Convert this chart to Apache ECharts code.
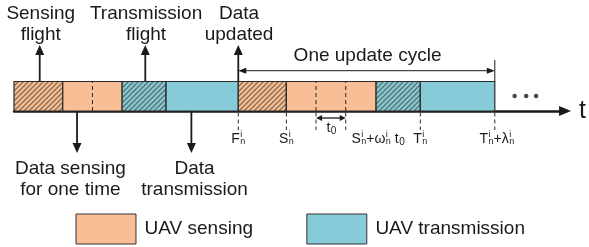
<!DOCTYPE html>
<html>
<head>
<meta charset="utf-8">
<script src="https://cdn.jsdelivr.net/npm/echarts@6/dist/echarts.min.js"></script>
<style>
  html, body { margin: 0; padding: 0; background: #fff; }
  #chart { width: 589px; height: 247px; }
</style>
</head>
<body>
<div id="chart"></div>
<script>
// time runs along x (0 = start of first sensing flight), y: 0 = time axis
const segStart = [0, 49.3, 109.3, 153.7, 226.7, 275.3, 366, 410.7];
const segEnd = [49.3, 109.3, 153.7, 226.7, 275.3, 366, 410.7, 486];
const segKind = ['sf', 's', 'tf', 't', 'sf', 's', 'tf', 't'];
const barTop = 29.5;
const slotLines = [79.3, 305.3, 335.3];
const tickTimes = [226.7, 275.3, 305.3, 335.3, 410.7, 486];

const tickLabelX = [226.7, 275.3, 368, 410.7, 488];
const tickLabels = [
  [{t: 'F'}, {sup: 'i', sub: 'n'}],
  [{t: 'S'}, {sup: 'i', sub: 'n'}],
  [{t: 'S'}, {sup: 'i', sub: 'n'}, {t: '+ω'}, {sup: 'i', sub: 'n'}, {t: ' t'}, {sub: '0'}],
  [{t: 'T'}, {sup: 'i', sub: 'n'}],
  [{t: 'T'}, {sup: 'i', sub: 'n'}, {t: '+λ'}, {sup: 'i', sub: 'n'}]
];

const upArrowX = [26, 132.7, 226.7];
const upTextX = [27, 133.5, 227.5];
const upTexts = ['Sensing\nflight', 'Transmission\nflight', 'Data\nupdated'];
const downArrowX = [63.7, 179.3];
const downTextX = [57, 182.5];
const downTexts = ['Data sensing\nfor one time', 'Data\ntransmission'];

const cycleFrom = 226.7, cycleTo = 486, cycleText = 'One update cycle';
const t0From = 305.3, t0To = 335.3;
const dotsX = [506, 517.7, 527.7];

const legendBoxX = [62.7, 296];
const legendKind = ['s', 't'];
const legendTexts = ['UAV sensing', 'UAV transmission'];

const orange = '#fabe97';
const cyan = '#86cbd7';
const ink = '#1a1a1a';
const font = '19px "Liberation Sans"';

function hatch() {
  const c = document.createElement('canvas');
  c.width = c.height = 5;
  const g = c.getContext('2d');
  g.strokeStyle = 'rgba(60,55,35,0.6)';
  g.lineWidth = 1.3;
  g.beginPath();
  g.moveTo(0, 5); g.lineTo(5, 0);
  g.moveTo(-1, 1); g.lineTo(1, -1);
  g.moveTo(4, 6); g.lineTo(6, 4);
  g.stroke();
  return c;
}
const hatchPattern = {image: hatch(), repeat: 'repeat'};

const measure = document.createElement('canvas').getContext('2d');
function textW(str, f) { measure.font = f; return measure.measureText(str).width; }

// label with stacked super/subscripts, centred on (cx, cy)
function mathLabel(parts, cx, cy) {
  const big = '14px "Liberation Sans"', small = '9px "Liberation Sans"', sub0 = '10px "Liberation Sans"';
  const widths = parts.map(p => p.t ? textW(p.t, big) :
    p.sup ? Math.max(textW(p.sup, small), textW(p.sub, small)) + 0.5 : textW(p.sub, sub0) + 0.5);
  let x = cx - widths.reduce((a, b) => a + b, 0) / 2;
  const out = [];
  parts.forEach((p, i) => {
    if (p.t) {
      out.push({type: 'text', style: {text: p.t, x: x, y: cy, font: big, fill: ink, align: 'left', verticalAlign: 'middle'}});
    } else if (p.sup) {
      out.push({type: 'text', style: {text: p.sup, x: x + 0.5, y: cy - 4, font: small, fill: ink, align: 'left', verticalAlign: 'middle'}});
      out.push({type: 'text', style: {text: p.sub, x: x + 0.5, y: cy + 3, font: small, fill: ink, align: 'left', verticalAlign: 'middle'}});
    } else {
      out.push({type: 'text', style: {text: p.sub, x: x + 0.5, y: cy + 3, font: sub0, fill: ink, align: 'left', verticalAlign: 'middle'}});
    }
    x += widths[i];
  });
  return out;
}

function head(tip, dx, dy, len, wid) {
  // dx,dy: unit direction of the arrow
  const bx = tip[0] - dx * len, by = tip[1] - dy * len;
  return {type: 'polygon', shape: {points: [tip, [bx - dy * wid / 2, by + dx * wid / 2], [bx + dy * wid / 2, by - dx * wid / 2]]},
    style: {fill: ink}};
}

const chart = echarts.init(document.getElementById('chart'));

chart.setOption({
  animation: false,
  grid: {left: 14, right: 18, top: 0, bottom: 0},
  xAxis: {
    type: 'value', min: 0, max: 557,
    name: 't', nameLocation: 'end', nameGap: 14,
    nameTextStyle: {fontSize: 25, color: ink, fontFamily: 'Liberation Sans', padding: [14, 0, 0, 0]},
    axisLine: {onZero: true, symbol: ['none', 'triangle'], symbolSize: [10, 12],
      lineStyle: {color: ink, width: 2.5}},
    axisTick: {show: false}, axisLabel: {show: false}, splitLine: {show: false}
  },
  yAxis: {type: 'value', min: -136, max: 111, show: false},
  series: [
    {
      // timeline blocks
      type: 'custom', clip: false, z: 2,
      data: segStart.map((s, i) => [s, segEnd[i], i]),
      renderItem: (params, api) => {
        const k = segKind[api.value(2)];
        const p0 = api.coord([api.value(0), 0]);
        const p1 = api.coord([api.value(1), barTop]);
        const shape = {x: p0[0], y: p1[1], width: p1[0] - p0[0], height: p0[1] - p1[1]};
        const kids = [{type: 'rect', shape: shape, style: {fill: k[0] === 's' ? orange : cyan}}];
        if (k.length > 1) kids.push({type: 'rect', shape: shape, style: {fill: hatchPattern}});
        kids.push({type: 'rect', shape: shape, style: {fill: 'none', stroke: '#2a2a2a', lineWidth: 1.2}});
        return {type: 'group', children: kids};
      }
    },
    {
      // dashed slot dividers inside sensing blocks
      type: 'custom', clip: false, z: 3,
      data: slotLines.map(v => [v]),
      renderItem: (params, api) => {
        const a = api.coord([api.value(0), 0]), b = api.coord([api.value(0), barTop]);
        return {type: 'line', shape: {x1: a[0], y1: a[1], x2: b[0], y2: b[1]},
          style: {stroke: '#2a2a2a', lineWidth: 1, lineDash: [4, 3]}};
      }
    },
    {
      // dashed time marks below the axis
      type: 'custom', clip: false, z: 3,
      data: tickTimes.map(v => [v]),
      renderItem: (params, api) => {
        const a = api.coord([api.value(0), -1.5]), b = api.coord([api.value(0), -19]);
        return {type: 'line', shape: {x1: a[0], y1: a[1], x2: b[0], y2: b[1]},
          style: {stroke: '#2a2a2a', lineWidth: 1, lineDash: [4, 3]}};
      }
    },
    {
      // tick labels
      type: 'custom', clip: false, z: 4,
      data: tickLabelX.map((v, i) => [v, i]),
      renderItem: (params, api) => {
        const p = api.coord([api.value(0), -28]);
        return {type: 'group', children: mathLabel(tickLabels[api.value(1)], p[0], p[1])};
      }
    },
    {
      // up arrows + captions
      type: 'custom', clip: false, z: 4,
      data: upArrowX.map((v, i) => [v, upTextX[i], i]),
      renderItem: (params, api) => {
        const tip = api.coord([api.value(0), 66]), base = api.coord([api.value(0), barTop]);
        const t = api.coord([api.value(1), 87]);
        return {type: 'group', children: [
          {type: 'line', shape: {x1: base[0], y1: base[1], x2: tip[0], y2: tip[1] + 8}, style: {stroke: ink, lineWidth: 1.8}},
          head(tip, 0, -1, 10, 9),
          {type: 'text', style: {text: upTexts[api.value(2)], x: t[0], y: t[1], font: font, lineHeight: 21,
            fill: ink, align: 'center', verticalAlign: 'middle'}}
        ]};
      }
    },
    {
      // down arrows + captions
      type: 'custom', clip: false, z: 4,
      data: downArrowX.map((v, i) => [v, downTextX[i], i]),
      renderItem: (params, api) => {
        const tip = api.coord([api.value(0), -42]), base = api.coord([api.value(0), 0]);
        const t = api.coord([api.value(1), -68.5]);
        return {type: 'group', children: [
          {type: 'line', shape: {x1: base[0], y1: base[1], x2: tip[0], y2: tip[1] - 8}, style: {stroke: ink, lineWidth: 1.8}},
          head(tip, 0, 1, 10, 9),
          {type: 'text', style: {text: downTexts[api.value(2)], x: t[0], y: t[1], font: font, lineHeight: 21,
            fill: ink, align: 'center', verticalAlign: 'middle'}}
        ]};
      }
    },
    {
      // update cycle span and t0 span
      type: 'custom', clip: false, z: 4,
      data: [[cycleFrom, cycleTo, 40.3, 0], [t0From, t0To, -7, 1]],
      renderItem: (params, api) => {
        const a = api.coord([api.value(0), api.value(2)]), b = api.coord([api.value(1), api.value(2)]);
        const big = api.value(3) === 0;
        const len = big ? 8 : 6, wid = 6;
        const kids = [
          {type: 'line', shape: {x1: a[0] + len - 1, y1: a[1], x2: b[0] - len + 1, y2: b[1]}, style: {stroke: ink, lineWidth: big ? 1 : 1.3}},
          head(a, -1, 0, len, wid), head(b, 1, 0, len, wid)
        ];
        if (big) {
          const t1 = api.coord([api.value(1), barTop]), t2 = api.coord([api.value(1), 51]);
          kids.push({type: 'line', shape: {x1: t1[0], y1: t1[1], x2: t2[0], y2: t2[1]}, style: {stroke: ink, lineWidth: 1}});
          const c = api.coord([(api.value(0) + api.value(1)) / 2 + 1, 55.5]);
          kids.push({type: 'text', style: {text: cycleText, x: c[0], y: c[1], font: font, fill: ink, align: 'center', verticalAlign: 'middle'}});
        } else {
          const c = api.coord([(api.value(0) + api.value(1)) / 2 + 0.5, -17]);
          kids.push.apply(kids, mathLabel([{t: 't'}, {sub: '0'}], c[0], c[1]));
        }
        return {type: 'group', children: kids};
      }
    },
    {
      // continuation dots
      type: 'scatter', symbol: 'circle', symbolSize: 4.5, z: 4,
      itemStyle: {color: ink},
      data: dotsX.map(v => [v, 15])
    },
    {
      // legend boxes
      type: 'custom', clip: false, z: 4,
      data: legendBoxX.map((v, i) => [v, i]),
      renderItem: (params, api) => {
        const i = api.value(1);
        const p0 = api.coord([api.value(0), -103]), p1 = api.coord([api.value(0) + 60.6, -133]);
        const t = api.coord([api.value(0) + 69.3, -118]);
        return {type: 'group', children: [
          {type: 'rect', shape: {x: p0[0], y: p0[1], width: p1[0] - p0[0], height: p1[1] - p0[1]},
            style: {fill: legendKind[i] === 's' ? orange : cyan, stroke: '#333', lineWidth: 1}},
          {type: 'text', style: {text: legendTexts[i], x: t[0], y: t[1], font: font, fill: ink, align: 'left', verticalAlign: 'middle'}}
        ]};
      }
    }
  ]
});
</script>
</body>
</html>
